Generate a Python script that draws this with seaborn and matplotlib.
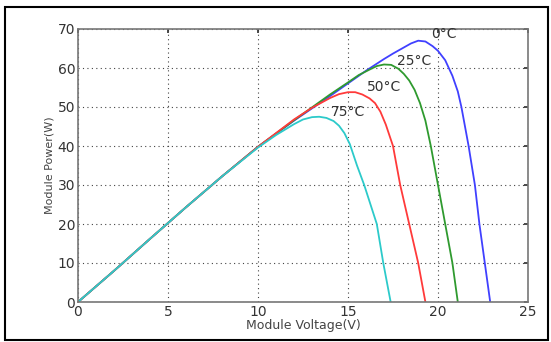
import pandas as pd
import matplotlib
matplotlib.use("Agg")
import matplotlib.pyplot as plt
import seaborn as sns

# P-V curves (voltage in V, power in W)
v_0c = [0, 2, 4, 6, 8, 10, 12, 14, 16, 17, 17.5, 18, 18.5, 18.9, 19.3, 19.7, 20.0, 20.4, 20.8, 21.1,
        21.3, 21.7, 22.05, 22.3, 22.6, 22.9]
p_0c = [0, 8, 16.2, 24.3, 32.2, 39.8, 46.5, 52.8, 59.3, 62.3, 63.7, 65.0, 66.3, 67.0, 66.8, 65.6, 64.4, 62.0, 58.0, 54.0,
        50, 40, 30, 20, 10, 0]

v_25c = [0, 2, 4, 6, 8, 10, 12, 14, 15, 15.6, 16.2, 16.6, 17.0, 17.4, 17.8, 18.1, 18.4, 18.7, 19.0, 19.3,
         19.6, 20.0, 20.4, 20.8, 21.1]
p_25c = [0, 8, 16.2, 24.3, 32.2, 39.8, 46.6, 53.2, 56.3, 58.2, 59.6, 60.5, 60.9, 60.8, 59.8, 58.5, 56.8, 54.4, 51.0, 46.5,
         40, 30, 20, 10, 0]

v_50c = [0, 2, 4, 6, 8, 10, 12, 13, 14, 14.5, 15.0, 15.4, 15.8, 16.2, 16.5, 16.8, 17.1, 17.5, 17.9, 18.4, 18.9, 19.3]
p_50c = [0, 8, 16.2, 24.3, 32.2, 39.8, 46.8, 49.8, 52.3, 53.3, 53.8, 53.8, 53.2, 52.2, 51.0, 48.8, 45.5, 40, 30, 20, 10, 0]

v_75c = [0, 2, 4, 6, 8, 10, 11, 12, 12.5, 13.0, 13.4, 13.8, 14.2, 14.5, 14.8, 15.1, 15.5, 15.9, 16.6, 16.96, 17.37]
p_75c = [0, 8, 16.2, 24.3, 32.2, 39.6, 42.8, 45.6, 46.8, 47.4, 47.5, 47.2, 46.4, 45.2, 43.3, 40.5, 35, 30, 20, 10, 0]

labels = ["0°C", "25°C", "50°C", "75°C"]
label_pos = [(20.3, 68.7), (18.7, 61.8), (17.0, 55.1), (15.0, 48.7)]
colors = ["#4040ff", "#2f9a2f", "#ff3a3a", "#2ccaca"]

sns.set_theme(style="white")
plt.rcParams['font.family'] = ['DejaVu Sans']

fig = plt.figure(figsize=(5.51, 3.42), dpi=100)
ax = fig.add_axes([78/551, 1 - 302/342, 450/551, 273/342])

curves = [(v_0c, p_0c), (v_25c, p_25c), (v_50c, p_50c), (v_75c, p_75c)]
for (v, p), c in zip(curves, colors):
    df = pd.DataFrame({"V": v, "P": p})
    sns.lineplot(data=df, x="V", y="P", color=c, linewidth=1.3, estimator=None, ax=ax)

for txt, (x, y) in zip(labels, label_pos):
    ax.text(x, y, txt, ha="center", va="center", fontsize=10, color="#333333")

ax.set_xlim(0, 25)
ax.set_ylim(0, 70)
ax.set_xticks(range(0, 26, 5))
ax.set_yticks(range(0, 71, 10))
ax.grid(True, linestyle=(0, (1, 3)), color="#444444", linewidth=0.8)
ax.tick_params(direction="in", length=3, top=True, right=True, labelsize=10,
               colors="#333333", pad=2)
for s in ax.spines.values():
    s.set_color("#777777")
    s.set_linewidth(1.2)
ax.set_xlabel("Module Voltage(V)", fontsize=9, color="#444444", labelpad=0)
ax.set_ylabel("Module Power(W)", fontsize=8, color="#444444", labelpad=2)

# outer frame around the whole picture
fig.patches.append(plt.Rectangle((5/551, 2/342), 543/551, 333/342, transform=fig.transFigure,
                                 fill=False, edgecolor="black", linewidth=1.5))

fig.savefig("out.png", dpi=100)
